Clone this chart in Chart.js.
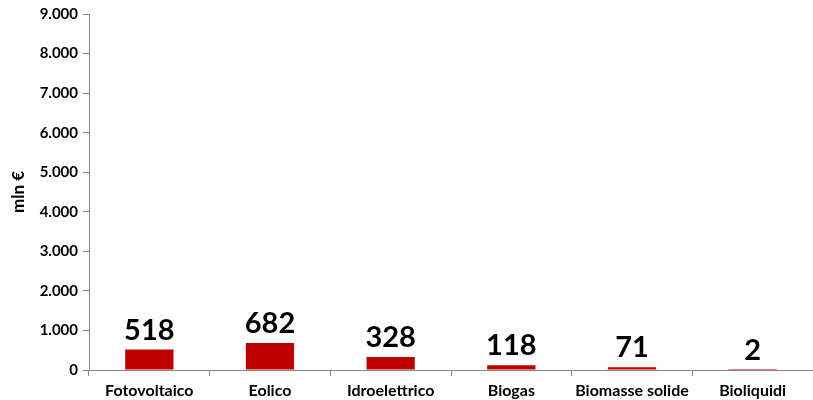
<!DOCTYPE html>
<html>
<head>
<meta charset="utf-8">
<script src="https://cdn.jsdelivr.net/npm/chart.js@4"></script>
<style>
  html, body { margin: 0; padding: 0; background: #fff; }
  canvas { display: block; }
</style>
</head>
<body>
<canvas id="chart" width="813" height="400"></canvas>
<script>
const categories = ["Fotovoltaico", "Eolico", "Idroelettrico", "Biogas", "Biomasse solide", "Bioliquidi"];
const values = [518, 682, 328, 118, 71, 2];
const yTicks = [0, 1000, 2000, 3000, 4000, 5000, 6000, 7000, 8000, 9000];
const yTitle = "mln €";

const fmt = v => v.toString().replace(/\B(?=(\d{3})+(?!\d))/g, ".");

// draws the big value labels above each bar
const valueLabels = {
  id: "valueLabels",
  afterDatasetsDraw(chart) {
    const ctx = chart.ctx;
    const meta = chart.getDatasetMeta(0);
    ctx.save();
    ctx.font = "bold 29px Lato, 'Open Sans', sans-serif";
    ctx.fillStyle = "#000";
    ctx.textAlign = "center";
    ctx.textBaseline = "alphabetic";
    meta.data.forEach((bar, i) => {
      ctx.fillText(fmt(values[i]), bar.x, bar.y - 10);
    });
    ctx.restore();
  }
};

const ctx = document.getElementById("chart").getContext("2d");
new Chart(ctx, {
  type: "bar",
  data: {
    labels: categories,
    datasets: [{
      data: values,
      backgroundColor: "#C00000",
      barPercentage: 0.4,
      categoryPercentage: 1
    }]
  },
  options: {
    responsive: false,
    animation: false,
    layout: { padding: { top: 10, right: 0, left: 0, bottom: 0 } },
    plugins: { legend: { display: false }, tooltip: { enabled: false } },
    scales: {
      x: {
        grid: { drawOnChartArea: false, tickLength: 6, color: "#868686", offset: true },
        border: { color: "#868686" },
        ticks: {
          color: "#000",
          font: { family: "Lato, 'Open Sans', sans-serif", size: 16, weight: "bold" },
          padding: 5
        },
        afterFit(scale) { scale.height = 30; }
      },
      y: {
        min: 0,
        max: 9000,
        afterBuildTicks(scale) { scale.ticks = yTicks.map(v => ({ value: v })); },
        grid: { drawOnChartArea: false, tickLength: 6, color: "#868686" },
        border: { color: "#868686" },
        ticks: {
          color: "#000",
          font: { family: "Lato, 'Open Sans', sans-serif", size: 15, weight: "bold" },
          padding: 5,
          callback: v => fmt(v)
        },
        title: {
          display: true,
          text: yTitle,
          color: "#000",
          font: { family: "Lato, 'Open Sans', sans-serif", size: 17, weight: "bold" },
          padding: { top: 8, bottom: 0 }
        },
        afterFit(scale) { scale.width = 89; }
      }
    }
  },
  plugins: [valueLabels]
});
</script>
</body>
</html>
